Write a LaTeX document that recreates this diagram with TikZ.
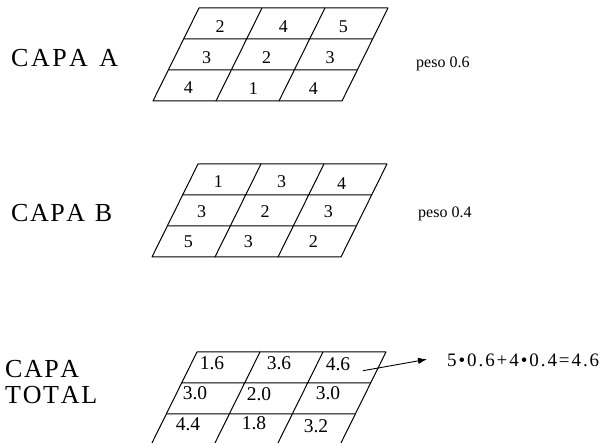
\documentclass[tikz,border=0pt]{standalone}
\usepackage{fontspec}
\setmainfont{Liberation Serif}
\usetikzlibrary{arrows.meta}
\tikzset{
  gridline/.style={line width=1pt, line join=round, line cap=round},
  celltext/.style={font=\fontsize{18}{18}\selectfont, inner sep=0pt},
  totaltext/.style={font=\fontsize{19.5}{19.5}\selectfont, inner sep=0pt},
  layerlabel/.style={font=\fontsize{26}{26}\selectfont, inner sep=0pt, anchor=base west},
  weightlabel/.style={font=\fontsize{16}{16}\selectfont, inner sep=0pt, anchor=base west},
  formulatext/.style={font=\fontsize{19}{19}\selectfont, inner sep=0pt, anchor=base west},
  pointer/.style={line width=0.9pt, -{Latex[length=9pt,width=6.5pt]}}
}
\newcommand\layergrid[2]{%
  \begin{scope}[shift={(#1,#2)}, xslant=0.495]
    \draw[gridline] (0,0) rectangle (189,93);
    \draw[gridline] (0,31) -- (189,31) (0,62) -- (189,62)
                    (63,0) -- (63,93) (126,0) -- (126,93);
  \end{scope}}
\begin{document}
\begin{tikzpicture}[x=1pt,y=-1pt]
\useasboundingbox (0,0) rectangle (600,443);
\clip (0,0) rectangle (600,443);
\fill[white] (0,0) rectangle (600,443);

% ---- CAPA A ----
\node[layerlabel] (labA) at (11,67) {\makebox[107pt][s]{C\hfil A\hfil P\hfil A\hfil\ \hfil A}};
\layergrid{199}{8}
\node[celltext] (a11) at (220,26.5) {2};
\node[celltext] (a12) at (283.3,26.5) {4};
\node[celltext] (a13) at (343.3,26.5) {5};
\node[celltext] (a21) at (206.7,57.3) {3};
\node[celltext] (a22) at (266.7,57.3) {2};
\node[celltext] (a23) at (330,57.3) {3};
\node[celltext] (a31) at (188.3,88) {4};
\node[celltext] (a32) at (253.3,88.3) {1};
\node[celltext] (a33) at (313.3,88.3) {4};
\node[weightlabel] (wA) at (416,68) {peso 0.6};

% ---- CAPA B ----
\node[layerlabel] (labB) at (11,222) {\makebox[101pt][s]{C\hfil A\hfil P\hfil A\hfil\ \hfil B}};
\layergrid{198}{164}
\node[celltext] (b11) at (218.3,181.7) {1};
\node[celltext] (b12) at (281.7,181.7) {3};
\node[celltext] (b13) at (341.7,183.3) {4};
\node[celltext] (b21) at (201.7,211.7) {3};
\node[celltext] (b22) at (265,211.7) {2};
\node[celltext] (b23) at (328.3,211.7) {3};
\node[celltext] (b31) at (188.3,241.7) {5};
\node[celltext] (b32) at (248.3,241.7) {3};
\node[celltext] (b33) at (313.3,241.7) {2};
\node[weightlabel] (wB) at (418,218) {peso 0.4};

% ---- CAPA TOTAL ----
\node[layerlabel] (labT1) at (5,377.5) {\makebox[74pt][s]{C\hfil A\hfil P\hfil A}};
\node[layerlabel] (labT2) at (5,403.5) {\makebox[92pt][s]{T\hfil O\hfil T\hfil A\hfil L}};
\layergrid{197}{352}
\node[totaltext] (t11) at (212,363) {1.6};
\node[totaltext] (t12) at (279,363) {3.6};
\node[totaltext] (t13) at (338,364) {4.6};
\node[totaltext] (t21) at (195,393) {3.0};
\node[totaltext] (t22) at (259,394) {2.0};
\node[totaltext] (t23) at (328,393) {3.0};
\node[totaltext] (t31) at (188,424) {4.4};
\node[totaltext] (t32) at (254,423) {1.8};
\node[totaltext] (t33) at (316,426) {3.2};

\node[formulatext] (formula) at (447,366.5)
  {\makebox[152pt][s]{5\hfil•\hfil0\hfil.\hfil6\hfil+\hfil4\hfil•\hfil0\hfil.\hfil4\hfil=\hfil4\hfil.\hfil6}};
\coordinate (arrstart) at (363,370.7);
\coordinate (arrtip) at (427,359.3);
\draw[pointer] (arrstart) -- (arrtip);
\end{tikzpicture}
\end{document}
